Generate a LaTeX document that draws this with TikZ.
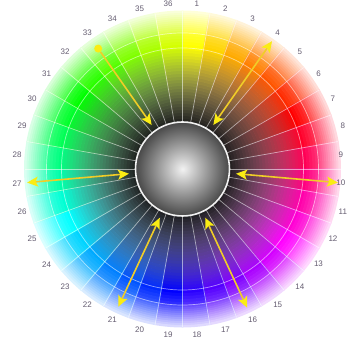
\documentclass[tikz,border=0pt]{standalone}
\usepackage{fontspec}
\setmainfont{Liberation Sans}
\usepackage{tikz}
\usetikzlibrary{arrows.meta,calc}
\definecolor{numgray}{RGB}{100,92,112}
\definecolor{ayellow}{RGB}{250,236,20}
\definecolor{aline}{RGB}{240,205,40}

\begin{document}
\begin{tikzpicture}[
  x=1pt,y=1pt,
  spoke/.style={draw=white,opacity=.55,line width=.7pt},
  numlabel/.style={inner sep=0pt,font=\fontsize{8}{9}\selectfont,text=numgray},
  sphere/.style={circle,inner sep=0pt,minimum size=94pt,inner color=gray!10,outer color=black!72,draw=white!90!gray,line width=1.6pt},
  enddot/.style={circle,inner sep=0pt,minimum size=8pt,fill=ayellow},
  arrow/.style={{Stealth[length=11pt,width=10pt,inset=2.5pt,color=ayellow]}-{Stealth[length=11pt,width=10pt,inset=2.5pt,color=ayellow]},draw=aline,line width=1.6pt},
  arrowin/.style={-{Stealth[length=11pt,width=10pt,inset=2.5pt,color=ayellow]},draw=aline,line width=1.6pt}
]
  \useasboundingbox (0,0) rectangle (348,342);
  \begin{scope}[shift={(182.5,173)}]
    % Hue wedges
    \foreach \k in {1,...,36}{
      \pgfmathtruncatemacro\h{mod(430-10*\k,360)}
      \definecolor{segc}{Hsb}{\h,1,1}
      \pgfmathsetmacro\a{100.3-10*\k}
      \pgfmathsetmacro\b{\a-10.6}
      \foreach \r in {47,50,...,119}{
        \pgfmathsetmacro\p{15+85*(\r-47)/74}
        \fill[segc!\p!black] (\a:\r) arc[start angle=\a,end angle=\b,radius=\r] -- (\b:\r+3.5) arc[start angle=\b,end angle=\a,radius=\r+3.5] -- cycle;
      }
      \foreach \r in {121,124,...,133}{
        \pgfmathsetmacro\p{100-22*(\r-121)/15}
        \fill[segc!\p!white] (\a:\r) arc[start angle=\a,end angle=\b,radius=\r] -- (\b:\r+3.5) arc[start angle=\b,end angle=\a,radius=\r+3.5] -- cycle;
      }
      \foreach \r in {136,138,...,156}{
        \pgfmathsetmacro\p{70-55*(\r-136)/20}
        \fill[segc!\p!white] (\a:\r) arc[start angle=\a,end angle=\b,radius=\r] -- (\b:\r+2.5) arc[start angle=\b,end angle=\a,radius=\r+2.5] -- cycle;
      }
    }

    % Grid lines
    \foreach \k in {0,...,35}
      \draw[spoke] (10*\k:47) -- (10*\k:158);
    \draw[spoke] (0,0) circle[radius=121];
    \draw[spoke] (0,0) circle[radius=136];

    % Numbers
    \foreach \k in {1,...,36}{
      \pgfmathsetmacro\lr{(\k==9||\k==10) ? 159 : 166}
      \node[numlabel] (n\k) at ({95-10*\k}:\lr) {\k};
    }

    % Sphere
    \node[sphere] (core) at (0,0) {};

    % Arrow ends
    \coordinate (p4) at (55:156);
    \coordinate (p10) at (-5:156);
    \coordinate (p16) at (-65:153);
    \coordinate (p21) at (-115:152);
    \coordinate (p27) at (-175:156);
    \node[enddot] (p33) at (125:147) {};

    % Arrows
    \draw[arrow,shorten <=6pt] (core) -- (p4);
    \draw[arrow,shorten <=6pt] (core) -- (p10);
    \draw[arrow,shorten <=6pt] (core) -- (p16);
    \draw[arrow,shorten <=6pt] (core) -- (p21);
    \draw[arrow,shorten <=6pt] (core) -- (p27);
    \draw[arrowin,shorten >=6pt] (p33) -- (core);
  \end{scope}
\end{tikzpicture}
\end{document}
